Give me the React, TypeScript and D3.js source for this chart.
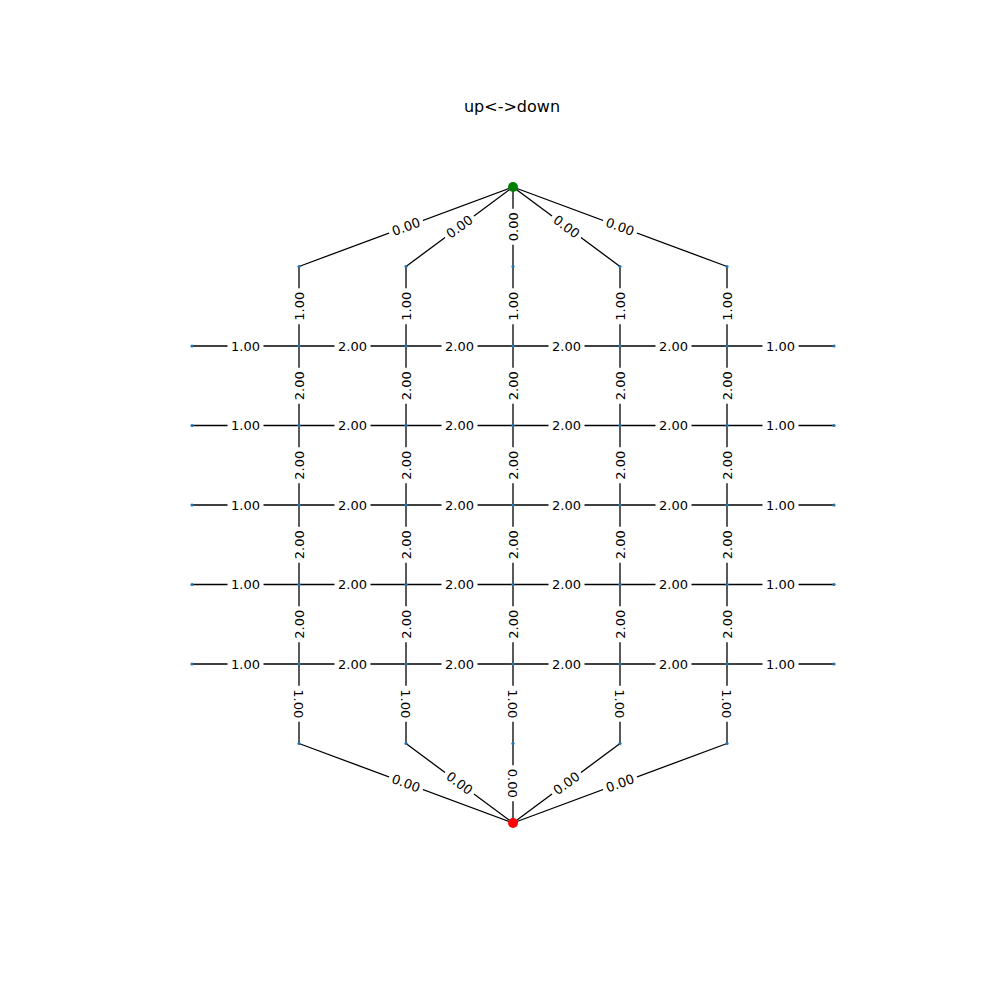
import * as d3 from 'd3';

const title = 'up<->down';
const gridCols = [0, 1, 2, 3, 4];
const gridRows = [2, 3, 4, 5, 6];
const sourceWeights = [0, 0, 0, 0, 0];
const entryWeights = [1, 1, 1, 1, 1];
const verticalWeights = [2, 2, 2, 2];
const horizontalWeights = [1, 2, 2, 2, 2, 1];
const exitWeights = [1, 1, 1, 1, 1];
const sinkWeights = [0, 0, 0, 0, 0];

type P = [number, number];
type E = { a: P; b: P; w: number };

const edges: E[] = [];
gridCols.forEach((c, i) => {
  edges.push({ a: [c, 1], b: [2, 0], w: sourceWeights[i] });
  edges.push({ a: [c, 2], b: [c, 1], w: entryWeights[i] });
  verticalWeights.forEach((w, k) => edges.push({ a: [c, gridRows[k + 1]], b: [c, gridRows[k]], w }));
  edges.push({ a: [c, 6], b: [c, 7], w: exitWeights[i] });
  edges.push({ a: [c, 7], b: [2, 8], w: sinkWeights[i] });
});
gridRows.forEach((r) => {
  horizontalWeights.forEach((w, k) => edges.push({ a: [k - 1, r], b: [k, r], w }));
});

const nodes: P[] = [];
gridCols.forEach((c) => { nodes.push([c, 1]); nodes.push([c, 7]); });
gridRows.forEach((r) => [-1, 0, 1, 2, 3, 4, 5].forEach((c) => nodes.push([c, r])));

const x = d3.scaleLinear().domain([-1, 5]).range([192, 834]);
const y = d3.scaleLinear().domain([0, 8]).range([187, 823]);

export default function App() {
  return (
    <svg width={1000} height={1000} style={{ display: 'block', margin: -8 }} fontFamily="DejaVu Sans, sans-serif">
      <rect width={1000} height={1000} fill="#fff" />
      <text x={512} y={112} textAnchor="middle" fontSize={16}>{title}</text>
      {edges.map((e, i) => (
        <line key={i} x1={x(e.a[0])} y1={y(e.a[1])} x2={x(e.b[0])} y2={y(e.b[1])} stroke="#000" strokeWidth={1.3} />
      ))}
      {nodes.map((n, i) => (
        <circle key={i} cx={x(n[0])} cy={y(n[1])} r={1.6} fill="#1f77b4" />
      ))}
      <circle cx={x(2)} cy={y(0)} r={5} fill="green" />
      <circle cx={x(2)} cy={y(8)} r={5} fill="red" />
      {edges.map((e, i) => {
        const x1 = x(e.a[0]), y1 = y(e.a[1]), x2 = x(e.b[0]), y2 = y(e.b[1]);
        let ang = (Math.atan2(y2 - y1, x2 - x1) * 180) / Math.PI;
        if (ang > 90) ang -= 180;
        if (ang < -90) ang += 180;
        const mx = (x1 + x2) / 2, my = (y1 + y2) / 2;
        return (
          <g key={i} transform={`translate(${mx},${my}) rotate(${ang})`}>
            <rect x={-18} y={-8} width={36} height={16} rx={4} fill="#fff" />
            <text textAnchor="middle" dy="0.35em" fontSize={13}>{e.w.toFixed(2)}</text>
          </g>
        );
      })}
    </svg>
  );
}
